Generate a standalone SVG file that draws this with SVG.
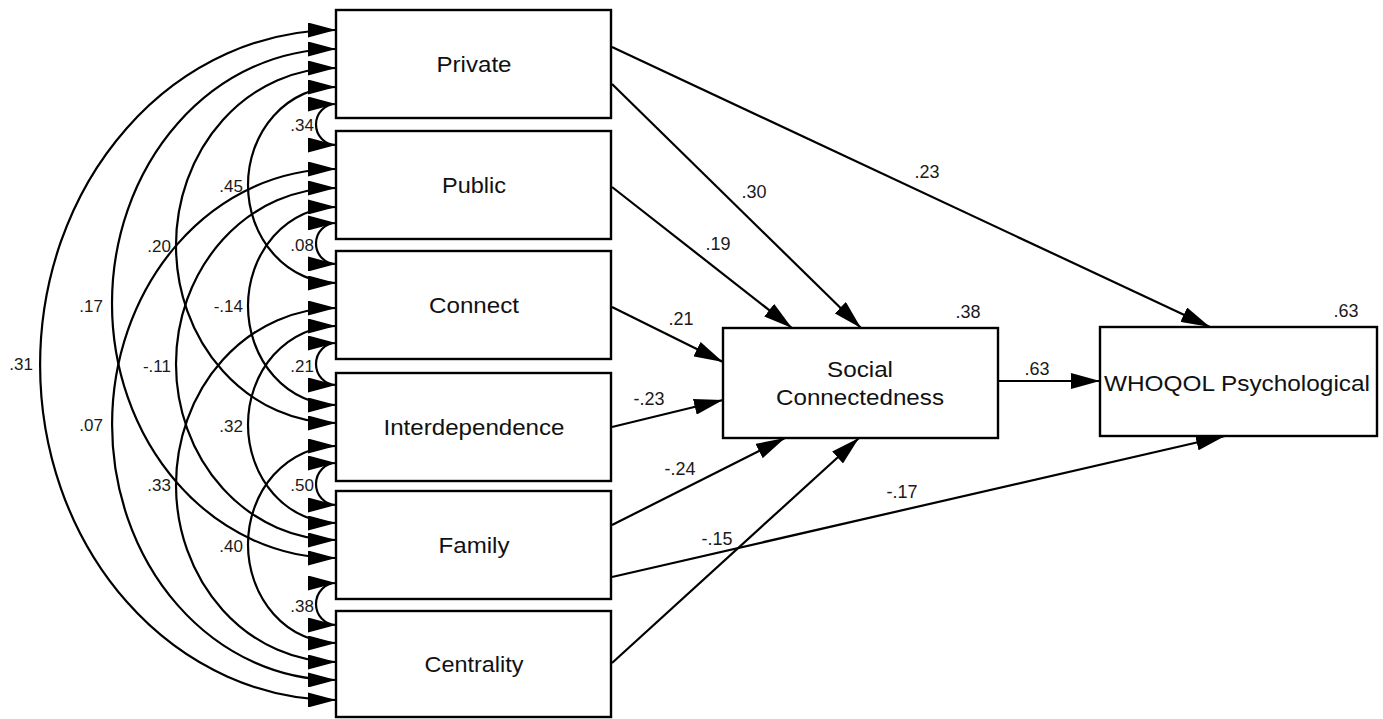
<svg xmlns="http://www.w3.org/2000/svg" width="1383" height="719" viewBox="0 0 1383 719">
  <defs>
    <!-- arrowhead for covariance arcs (both ends) -->
    <marker id="arcHead" markerUnits="userSpaceOnUse" markerWidth="28" markerHeight="15" refX="28" refY="7.5" orient="auto-start-reverse" viewBox="0 0 28 15">
      <path d="M0,0 L28,7.5 L0,15 z" fill="#000"/>
    </marker>
    <!-- arrowhead for regression paths -->
    <marker id="pathHead" markerUnits="userSpaceOnUse" markerWidth="29" markerHeight="16" refX="29" refY="8" orient="auto" viewBox="0 0 29 16">
      <path d="M0,0 L29,8 L0,16 z" fill="#000"/>
    </marker>
    <style>
      .box { fill: #fff; stroke: #000; stroke-width: 2.4; }
      .arc { fill: none; stroke: #000; stroke-width: 2.2; marker-start: url(#arcHead); marker-end: url(#arcHead); }
      .path { fill: none; stroke: #000; stroke-width: 2.2; marker-end: url(#pathHead); }
      .name { font-family: "Liberation Sans", Arial, sans-serif; font-size: 22px; fill: #111; text-anchor: middle; }
      .coef { font-family: "Liberation Sans", Arial, sans-serif; font-size: 18px; fill: #1a1a1a; text-anchor: middle; }
      .cov { font-family: "Liberation Sans", Arial, sans-serif; font-size: 17px; fill: #1a1a1a; text-anchor: end; }
    </style>
  </defs>

  <rect width="1383" height="719" fill="#fff"/>

  <!-- connectors: covariances on the left, regression paths on the right -->
  <g id="connectors">
    <g id="covariances">
      <path class="arc" d="M336,104 A20,20.5 0 0 0 336,145"/>
      <path class="arc" d="M336,87 A88,98 0 0 0 336,283"/>
      <path class="arc" d="M336,68 A160,177.5 0 0 0 336,423"/>
      <path class="arc" d="M336,49 A224,254.5 0 0 0 336,558"/>
      <path class="arc" d="M336,30 A296,335 0 0 0 336,700"/>
      <path class="arc" d="M336,223 A20,20.5 0 0 0 336,264"/>
      <path class="arc" d="M336,207 A88,99 0 0 0 336,405"/>
      <path class="arc" d="M336,188 A160,176 0 0 0 336,540"/>
      <path class="arc" d="M336,169 A224,255.5 0 0 0 336,680"/>
      <path class="arc" d="M336,343 A20,21 0 0 0 336,385"/>
      <path class="arc" d="M336,326 A88,98.5 0 0 0 336,523"/>
      <path class="arc" d="M336,308 A160,177 0 0 0 336,662"/>
      <path class="arc" d="M336,463 A20,21 0 0 0 336,505"/>
      <path class="arc" d="M336,446 A88,98.5 0 0 0 336,643"/>
      <path class="arc" d="M336,583 A20,21 0 0 0 336,625"/>
    </g>
    <g id="covariance-labels">
      <text class="cov" x="314" y="131">.34</text>
      <text class="cov" x="243" y="192">.45</text>
      <text class="cov" x="171" y="252">.20</text>
      <text class="cov" x="103" y="312">.17</text>
      <text class="cov" x="33" y="370">.31</text>
      <text class="cov" x="314" y="251">.08</text>
      <text class="cov" x="243" y="312">-.14</text>
      <text class="cov" x="171" y="372">-.11</text>
      <text class="cov" x="103" y="431">.07</text>
      <text class="cov" x="314" y="372">.21</text>
      <text class="cov" x="243" y="432">.32</text>
      <text class="cov" x="171" y="491">.33</text>
      <text class="cov" x="314" y="491">.50</text>
      <text class="cov" x="243" y="552">.40</text>
      <text class="cov" x="314" y="612">.38</text>
    </g>
    <g id="paths">
      <path class="path" d="M612,47 L1210,327"/>
      <path class="path" d="M612,84 L861,328"/>
      <path class="path" d="M612,187 L792,328"/>
      <path class="path" d="M612,307 L723,362"/>
      <path class="path" d="M612,427 L723,400"/>
      <path class="path" d="M612,525 L785,438"/>
      <path class="path" d="M612,663 L859,438"/>
      <path class="path" d="M612,577 L1225,436"/>
      <path class="path" d="M998,381 L1100,381"/>
    </g>
    <g id="path-labels">
      <text class="coef" x="927" y="178">.23</text>
      <text class="coef" x="754" y="198">.30</text>
      <text class="coef" x="718" y="250">.19</text>
      <text class="coef" x="681" y="325">.21</text>
      <text class="coef" x="649" y="405">-.23</text>
      <text class="coef" x="680" y="475">-.24</text>
      <text class="coef" x="717" y="545">-.15</text>
      <text class="coef" x="902" y="498">-.17</text>
      <text class="coef" x="1037" y="375">.63</text>
    </g>
  </g>

  <!-- observed variables -->
  <g id="private">
    <rect class="box" x="336" y="10" width="275" height="108"/>
    <text class="name" x="474" y="72" textLength="75" lengthAdjust="spacingAndGlyphs">Private</text>
  </g>
  <g id="public">
    <rect class="box" x="336" y="131" width="275" height="108"/>
    <text class="name" x="474" y="193" textLength="64" lengthAdjust="spacingAndGlyphs">Public</text>
  </g>
  <g id="connect">
    <rect class="box" x="336" y="251" width="275" height="108"/>
    <text class="name" x="474" y="313" textLength="90" lengthAdjust="spacingAndGlyphs">Connect</text>
  </g>
  <g id="interdependence">
    <rect class="box" x="336" y="373" width="275" height="108"/>
    <text class="name" x="474" y="435" textLength="181" lengthAdjust="spacingAndGlyphs">Interdependence</text>
  </g>
  <g id="family">
    <rect class="box" x="336" y="491" width="275" height="108"/>
    <text class="name" x="474" y="553" textLength="71" lengthAdjust="spacingAndGlyphs">Family</text>
  </g>
  <g id="centrality">
    <rect class="box" x="336" y="611" width="275" height="106"/>
    <text class="name" x="474" y="672" textLength="99" lengthAdjust="spacingAndGlyphs">Centrality</text>
  </g>

  <g id="social-connectedness">
    <rect class="box" x="723" y="328" width="275" height="110"/>
    <text class="name" x="860" y="377" textLength="66" lengthAdjust="spacingAndGlyphs">Social</text>
    <text class="name" x="860" y="405" textLength="168" lengthAdjust="spacingAndGlyphs">Connectedness</text>
    <text class="coef" x="968" y="318">.38</text>
  </g>
  <g id="whoqol-psychological">
    <rect class="box" x="1100" y="327" width="277" height="109"/>
    <text class="name" x="1237" y="391" textLength="266" lengthAdjust="spacingAndGlyphs">WHOQOL Psychological</text>
    <text class="coef" x="1346" y="317">.63</text>
  </g>
</svg>
